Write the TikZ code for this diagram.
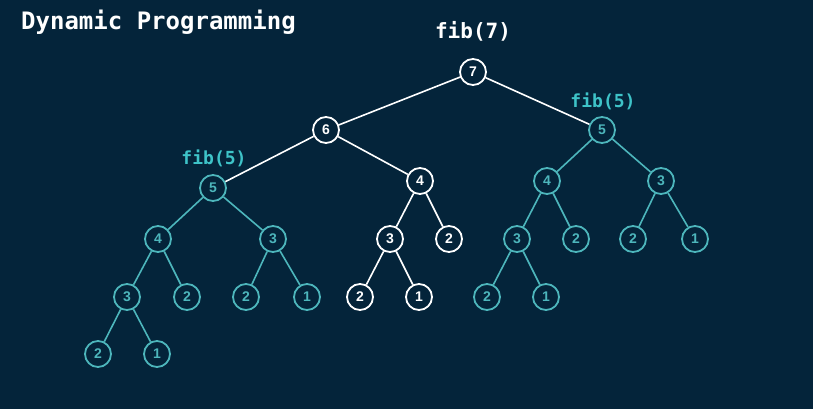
\documentclass[tikz,border=0pt]{standalone}
\usepackage{fontspec}
\setmainfont{Liberation Sans}
\newfontfamily\codefont{DejaVu Sans Mono}
\definecolor{bgnavy}{HTML}{04243A}
\definecolor{tealc}{HTML}{4DB6BC}
\definecolor{teallbl}{HTML}{3EC3C8}
\begin{document}
\begin{tikzpicture}[x=1pt,y=-1pt,
  wnode/.style={circle,draw=white,line width=1.8pt,fill=bgnavy,text=white,minimum size=26pt,inner sep=0pt,font=\bfseries\fontsize{14}{14}\selectfont},
  tnode/.style={circle,draw=tealc,line width=1.8pt,fill=bgnavy,text=tealc,minimum size=26pt,inner sep=0pt,font=\bfseries\fontsize{14}{14}\selectfont},
  wedge/.style={draw=white,line width=1.6pt},
  tedge/.style={draw=tealc,line width=1.6pt},
  lbl/.style={text=teallbl,font=\codefont\bfseries\fontsize{18}{18}\selectfont}]
\fill[bgnavy] (0,0) rectangle (813,409);
\useasboundingbox (0,0) rectangle (813,409);
\node[anchor=base west,text=white,font=\codefont\bfseries\fontsize{24}{24}\selectfont,inner sep=0pt] (title) at (21,30) {Dynamic Programming};
\node[anchor=base,text=white,font=\codefont\bfseries\fontsize{21}{21}\selectfont,inner sep=0pt] (top) at (473,39) {fib(7)};
% tree nodes
\node[wnode] (n7) at (473,72) {7};
\node[wnode] (n6) at (326,130) {6};
\node[tnode] (r5) at (602,130) {5};
\node[tnode] (l5) at (213,188) {5};
\node[wnode] (n4) at (420,181) {4};
\node[tnode] (r4) at (547,181) {4};
\node[tnode] (r3) at (661,181) {3};
\node[tnode] (l4) at (158,239) {4};
\node[tnode] (l3) at (273,239) {3};
\node[wnode] (n3) at (390,239) {3};
\node[wnode] (n2) at (449,239) {2};
\node[tnode] (r43) at (517,239) {3};
\node[tnode] (r42) at (576,239) {2};
\node[tnode] (r32) at (633,239) {2};
\node[tnode] (r31) at (695,239) {1};
\node[tnode] (l43) at (127,297) {3};
\node[tnode] (l42) at (187,297) {2};
\node[tnode] (l32) at (246,297) {2};
\node[tnode] (l31) at (307,297) {1};
\node[wnode] (n32) at (360,297) {2};
\node[wnode] (n31) at (419,297) {1};
\node[tnode] (r432) at (487,297) {2};
\node[tnode] (r431) at (546,297) {1};
\node[tnode] (l432) at (98,354) {2};
\node[tnode] (l431) at (157,354) {1};
% labels
\node[lbl,anchor=base] (lblL) at (214,164) {fib(5)};
\node[lbl,anchor=base] (lblR) at (603,107) {fib(5)};
% edges
\path[wedge] (n7) -- (n6) (n7) -- (r5) (n6) -- (l5) (n6) -- (n4)
  (n4) -- (n3) (n4) -- (n2) (n3) -- (n32) (n3) -- (n31);
\path[tedge] (l5) -- (l4) (l5) -- (l3) (l4) -- (l43) (l4) -- (l42)
  (l3) -- (l32) (l3) -- (l31) (l43) -- (l432) (l43) -- (l431)
  (r5) -- (r4) (r5) -- (r3) (r4) -- (r43) (r4) -- (r42)
  (r3) -- (r32) (r3) -- (r31) (r43) -- (r432) (r43) -- (r431);
\end{tikzpicture}
\end{document}
